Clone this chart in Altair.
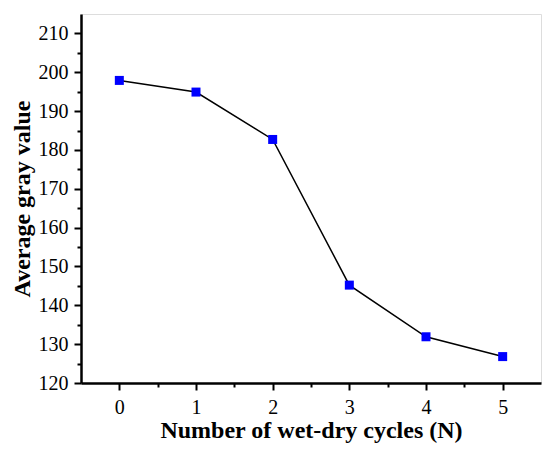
import altair as alt
import pandas as pd

cycles = [0, 1, 2, 3, 4, 5]
gray_values = [197.9, 194.9, 182.7, 145.2, 131.9, 126.8]

x_major = [0, 1, 2, 3, 4, 5]
x_minor = [0.5, 1.5, 2.5, 3.5, 4.5]
y_major = [120, 130, 140, 150, 160, 170, 180, 190, 200, 210]
y_minor = [125, 135, 145, 155, 165, 175, 185, 195, 205]

df = pd.DataFrame({"N": cycles, "gray": gray_values})

FONT = "Liberation Serif"
xscale = alt.Scale(domain=[-0.5, 5.5], nice=False, zero=False)
yscale = alt.Scale(domain=[120, 215], nice=False, zero=False)

major_x = alt.Axis(orient="bottom", values=x_major, format="d", tickSize=7, tickWidth=2,
                   labelPadding=7, labelFontSize=20, labelFont=FONT, labelColor="black",
                   title="Number of wet-dry cycles (N)", titleFont=FONT, titleFontSize=24,
                   titleFontWeight="bold", titleColor="black", titlePadding=1,
                   domainWidth=2.5, domainColor="black", tickColor="black", grid=False)
major_y = alt.Axis(orient="left", values=y_major, format="d", tickSize=7, tickWidth=2,
                   labelPadding=6, labelFontSize=20, labelFont=FONT, labelColor="black",
                   title="Average gray value", titleFont=FONT, titleFontSize=24,
                   titleFontWeight="bold", titleColor="black", titlePadding=4,
                   domainWidth=2.5, domainColor="black", tickColor="black", grid=False)
minor_x = alt.Axis(orient="bottom", values=x_minor, labels=False, domain=False, title=None,
                   tickSize=4, tickWidth=2, tickColor="black", grid=False)
minor_y = alt.Axis(orient="left", values=y_minor, labels=False, domain=False, title=None,
                   tickSize=4, tickWidth=2, tickColor="black", grid=False)

base = alt.Chart(df)
line = base.mark_line(color="black", strokeWidth=1.5).encode(
    x=alt.X("N:Q", scale=xscale, axis=major_x),
    y=alt.Y("gray:Q", scale=yscale, axis=major_y),
)
points = base.mark_point(shape="square", filled=True, size=81, color="#0000ff", opacity=1).encode(
    x=alt.X("N:Q", scale=xscale, axis=minor_x),
    y=alt.Y("gray:Q", scale=yscale, axis=minor_y),
)

chart = alt.layer(line, points).resolve_axis(x="independent", y="independent").properties(
    width=460, height=369,
    autosize=alt.AutoSizeParams(type="none"),
    padding={"left": 73, "top": 6, "right": 1, "bottom": 64},
    background="white",
).configure_view(stroke="black", strokeWidth=2.5).configure_axis(
    labelFont=FONT, titleFont=FONT
).configure(font=FONT)

chart.save("out.html", embed_options={"renderer": "svg", "actions": False})
